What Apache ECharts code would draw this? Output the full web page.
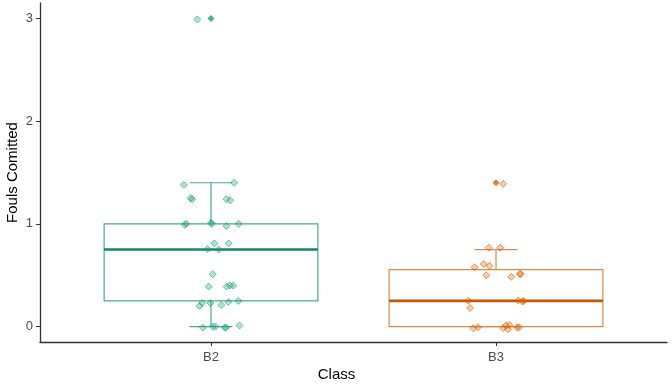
<!DOCTYPE html>
<html>
<head>
<meta charset="utf-8">
<script src="https://cdn.jsdelivr.net/npm/echarts@6/dist/echarts.min.js"></script>
<style>
  html, body { margin: 0; padding: 0; background: #fff; }
  #foulsChart { width: 672px; height: 386px; }
</style>
</head>
<body>
<div id="foulsChart"></div>
<script>
// categories and their positions on the x scale
const categories = ['B2', 'B3'];
const classPos = [1, 2];

// box stats: [lower whisker, Q1, median, Q3, upper whisker]
const b2Box = [0, 0.25, 0.75, 1.0, 1.4];
const b3Box = [0, 0, 0.25, 0.555, 0.75];

// outliers (drawn at class centre)
const b2Outliers = [3];
const b3Outliers = [1.4];

// jittered raw points
const b2JitterX = [0.905, 1.081, 0.929, 0.934, 1.054, 1.067, 0.908, 0.913, 1.0, 1.003, 1.054, 1.097,
  1.012, 1.062, 0.988, 1.027, 1.006, 0.992, 1.055, 1.067, 1.078, 0.969, 0.96, 0.998, 1.036, 1.061,
  1.096, 0.971, 1.006, 1.016, 1.048, 1.053, 1.1, 0.952];
const b2JitterY = [1.38, 1.40, 1.25, 1.24, 1.24, 1.23, 0.99, 1.0, 1.01, 1.0, 0.98, 1.0,
  0.81, 0.81, 0.755, 0.75, 0.51, 0.39, 0.39, 0.40, 0.40, 0.23, 0.20, 0.23, 0.21, 0.24,
  0.25, -0.01, 0.0, 0.0, -0.01, -0.01, 0.01, 2.99];

const b3JitterX = [2.025, 1.975, 2.015, 1.925, 1.957, 1.977, 1.966, 2.054, 2.083, 2.087, 1.903, 1.909,
  2.078, 2.093, 2.097, 1.92, 1.937, 2.025, 2.035, 2.047, 2.042, 2.074, 2.081];
const b3JitterY = [1.39, 0.768, 0.768, 0.578, 0.61, 0.59, 0.5, 0.484, 0.513, 0.51, 0.252, 0.18,
  0.255, 0.245, 0.25, -0.016, -0.007, -0.016, 0.01, 0.016, -0.026, -0.007, -0.007];

const yTicks = [0, 1, 2, 3];

const green = '#1b9e77';
const orange = '#d95f02';
const boxLine = ['#4aab8b', '#dd8a47'];
const medLine = ['#15866a', '#c85604'];

function zipXY(xs, ys) {
  return xs.map((x, i) => [x, ys[i]]);
}

const boxData = [
  [classPos[0]].concat(b2Box),
  [classPos[1]].concat(b3Box)
];

function renderBox(params, api) {
  const x = api.value(0);
  const lo = api.value(1), q1 = api.value(2), med = api.value(3), q3 = api.value(4), hi = api.value(5);
  const half = 0.375, cap = 0.075;
  const col = boxLine[params.dataIndex];
  const mcol = medLine[params.dataIndex];
  const tl = api.coord([x - half, q3]);
  const br = api.coord([x + half, q1]);
  const line = (a, b, c, w) => ({
    type: 'line',
    shape: {x1: a[0], y1: a[1], x2: b[0], y2: b[1]},
    style: {stroke: c, lineWidth: w}
  });
  return {
    type: 'group',
    children: [
      line(api.coord([x, q3]), api.coord([x, hi]), col, 1.2),
      line(api.coord([x, q1]), api.coord([x, lo]), col, 1.2),
      line(api.coord([x - cap, hi]), api.coord([x + cap, hi]), col, 1.2),
      line(api.coord([x - cap, lo]), api.coord([x + cap, lo]), col, 1.2),
      {
        type: 'rect',
        shape: {x: tl[0], y: tl[1], width: br[0] - tl[0], height: br[1] - tl[1]},
        style: {fill: '#fff', stroke: col, lineWidth: 1.2}
      },
      line(api.coord([x - half, med]), api.coord([x + half, med]), mcol, 2.6)
    ]
  };
}

const chart = echarts.init(document.getElementById('foulsChart'), null, {width: 672, height: 386});

const option = {
  animation: false,
  backgroundColor: '#fff',
  grid: {left: 40, right: 5, top: 3, bottom: 44, containLabel: false, outerBoundsMode: 'none'},
  xAxis: {
    type: 'value',
    min: 0.4,
    max: 2.6,
    name: 'Class',
    nameLocation: 'middle',
    nameGap: 25,
    nameMoveOverlap: false,
    nameTextStyle: {color: '#000', fontSize: 15, fontFamily: 'Liberation Sans', padding: [0, 34, 0, 0]},
    axisLine: {onZero: false, lineStyle: {color: '#333', width: 1.3}},
    axisTick: {customValues: classPos, length: 4, lineStyle: {color: '#333'}},
    axisLabel: {
      customValues: classPos,
      formatter: v => categories[Math.round(v) - 1],
      color: '#4d4d4d',
      fontSize: 13,
      fontFamily: 'Liberation Sans',
      margin: 9
    },
    splitLine: {show: false}
  },
  yAxis: {
    type: 'value',
    min: -0.15,
    max: 3.15,
    name: 'Fouls Comitted',
    nameLocation: 'middle',
    nameGap: 20,
    nameMoveOverlap: false,
    nameTextStyle: {color: '#000', fontSize: 15, fontFamily: 'Liberation Sans'},
    axisLine: {show: true, onZero: false, lineStyle: {color: '#333', width: 1.3}},
    axisTick: {show: true, customValues: yTicks, length: 4, lineStyle: {color: '#333'}},
    axisLabel: {customValues: yTicks, color: '#4d4d4d', fontSize: 13, fontFamily: 'Liberation Sans', margin: 7},
    splitLine: {show: false}
  },
  series: [
    {
      type: 'custom',
      renderItem: renderBox,
      data: boxData,
      encode: {x: 0, y: [1, 2, 3, 4, 5]},
      z: 1,
      silent: true
    },
    {
      type: 'scatter',
      data: [[classPos[0], b2Outliers[0]]],
      symbol: 'diamond',
      symbolSize: 7,
      itemStyle: {color: green},
      z: 2
    },
    {
      type: 'scatter',
      data: [[classPos[1], b3Outliers[0]]],
      symbol: 'diamond',
      symbolSize: 7,
      itemStyle: {color: orange},
      z: 2
    },
    {
      type: 'scatter',
      data: zipXY(b2JitterX, b2JitterY),
      symbol: 'diamond',
      symbolSize: 7,
      itemStyle: {color: 'rgba(27,158,119,0.4)', borderColor: 'rgba(27,158,119,0.75)', borderWidth: 1},
      z: 3
    },
    {
      type: 'scatter',
      data: zipXY(b3JitterX, b3JitterY),
      symbol: 'diamond',
      symbolSize: 7,
      itemStyle: {color: 'rgba(217,95,2,0.4)', borderColor: 'rgba(217,95,2,0.75)', borderWidth: 1},
      z: 3
    }
  ]
};

chart.setOption(option);
</script>
</body>
</html>
